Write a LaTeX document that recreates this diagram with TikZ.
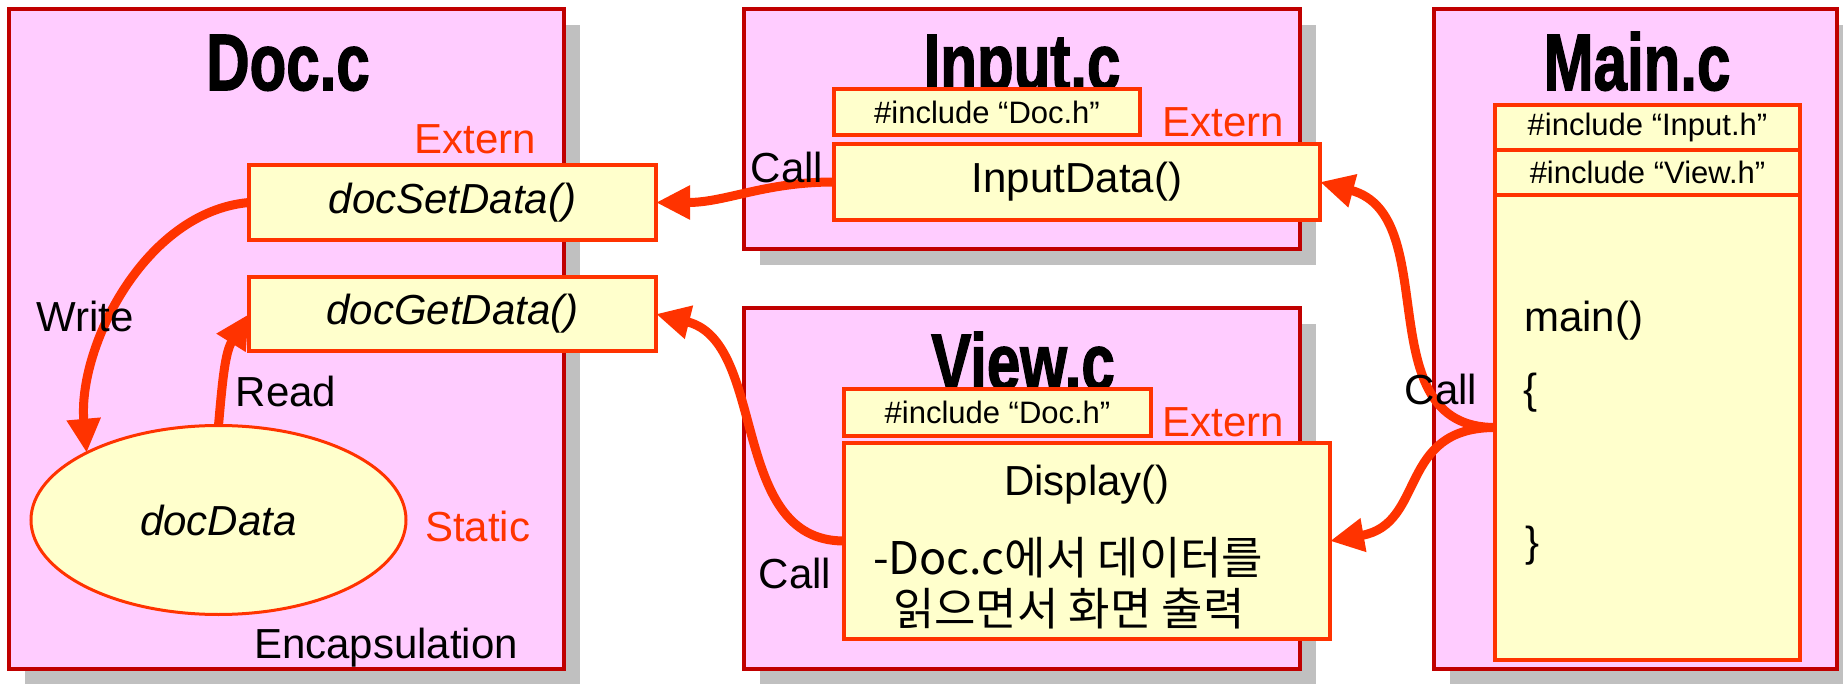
\documentclass[tikz,border=0pt]{standalone}
\usepackage{graphicx}
\usepackage{xcolor}
\usepackage{fontspec}
\setmainfont{Liberation Sans}
\newfontfamily\kr{Noto Sans CJK KR}
\newfontfamily\ttlfont[FakeBold=2]{Liberation Sans Bold}
\usetikzlibrary{shapes.geometric, arrows.meta, positioning, fit, shadows}

\definecolor{panelpink}{RGB}{255,204,255}
\definecolor{paneledge}{RGB}{192,0,0}
\definecolor{boxyellow}{RGB}{255,255,204}
\definecolor{boxedge}{RGB}{255,51,0}
\definecolor{shadowgray}{RGB}{192,192,192}

\begin{document}
\begin{tikzpicture}[
    x=0.5pt, y=0.5pt,
    panel/.style={
        rectangle, inner sep=0pt, outer sep=0pt,
        fill=panelpink, draw=paneledge, line width=2pt,
        drop shadow={opacity=1, fill=shadowgray, shadow xshift=8pt, shadow yshift=-8pt}
    },
    fn/.style={
        rectangle, inner sep=0pt, outer sep=0pt,
        fill=boxyellow, draw=boxedge, line width=2pt,
        font=\fontsize{21}{25}\selectfont
    },
    inc/.style={fn, font=\fontsize{15.5}{18}\selectfont},
    ttl/.style={anchor=base, font=\ttlfont\fontsize{40}{44}\selectfont},
    lbl/.style={anchor=base, font=\fontsize{21}{25}\selectfont},
    tag/.style={lbl, text=boxedge},
    note/.style={anchor=base west, font=\kr\fontsize{22.5}{26}\selectfont},
    arr/.style={-{Triangle[length=17pt, width=16pt]}, line width=4.5pt, draw=boxedge},
]
\useasboundingbox (0,0) rectangle (1843,-684);

%% ---- FILE PANELS ----
\node[panel, fit={(9,-9) (564,-669)}]      (docfile)   {};
\node[panel, fit={(744,-9) (1300,-249)}]   (inputfile) {};
\node[panel, fit={(744,-308) (1300,-669)}] (viewfile)  {};
\node[panel, fit={(1434,-9) (1837,-669)}]  (mainfile)  {};

%% ---- TITLES ----
\node[ttl] (doctitle)   at (288,-90)  {\scalebox{0.75}[1]{Doc.c}};
\node[ttl] (inputtitle) at (1022,-90) {\scalebox{0.75}[1]{Input.c}};
\node[ttl] (viewtitle)  at (1023,-390) {\scalebox{0.75}[1]{View.c}};
\node[ttl] (maintitle)  at (1637,-90) {\scalebox{0.75}[1]{Main.c}};

%% ---- DOC.C ----
\node[fn, minimum width=203.5pt, minimum height=37.5pt] (setfn) at (452.5,-202.5) {\itshape docSetData()};
\node[fn, minimum width=203.5pt, minimum height=37pt]   (getfn) at (452.5,-314)   {\itshape docGetData()};
\node[fn, ellipse, line width=1.5pt, minimum width=187.5pt, minimum height=94.5pt]
    (data) at (218.5,-520) {\itshape docData};

%% ---- INPUT.C ----
\node[inc, minimum width=153pt, minimum height=23pt] (inputinc) at (987,-112)  {\#include “Doc.h”};
\node[fn, minimum width=243pt, minimum height=38pt]  (inputfn)  at (1077,-182) {InputData()};

%% ---- VIEW.C ----
\node[inc, minimum width=153.5pt, minimum height=23.5pt] (viewinc) at (997.5,-412.5) {\#include “Doc.h”};
\node[fn, minimum width=243pt, minimum height=98pt]      (dispfn)  at (1087,-541)    {};
\node[lbl] (disptxt) at (1087,-495) {Display()};
\node[note] (dispnote)    at (866,-574) {-Doc.c에서 데이터를};
\node[note] (dispnotetwo) at (886,-625) {읽으면서 화면 출력};

%% ---- MAIN.C ----
\node[inc, minimum width=152.5pt, minimum height=22.5pt, anchor=north west]
    (maininc) at (1495,-105) {\#include “Input.h”};
\node[inc, minimum width=152.5pt, minimum height=22.5pt, below=0pt of maininc]
    (mainincview) {\#include “View.h”};
\node[fn, minimum width=152.5pt, minimum height=232.5pt, below=0pt of mainincview]
    (mainfn) {};
\node[lbl, anchor=base west] (mainsig)   at (1517,-332) {main()};
\node[lbl, anchor=base west] (mainopen)  at (1516,-403) {\{};
\node[lbl, anchor=base west] (mainclose) at (1518,-556) {\}};

%% ---- CALLS ----
\draw[arr] (setfn.west) to[out=185, in=95, looseness=0.9] (data.153);
\draw[arr] (data.north) to[out=85, in=238] (getfn.west);
\draw[arr] (inputfn.west) to[out=180, in=0] (setfn.east);
\draw[arr] (dispfn.west) to[out=180, in=-14] (getfn.east);
\draw[arr] (mainfn.west) to[out=180, in=-15, looseness=1.1] (inputfn.east);
\draw[arr] (mainfn.west) to[out=180, in=10, looseness=1.25] (dispfn.east);

%% ---- LABELS ----
\node[tag, anchor=base east] (docextern)   at (543,-154)  {Extern};
\node[tag, anchor=base east] (inputextern) at (1291,-137) {Extern};
\node[tag, anchor=base east] (viewextern)  at (1291,-437) {Extern};
\node[tag, anchor=base west] (docstatic)   at (418,-541)  {Static};
\node[lbl] (writelbl) at (85,-332)  {Write};
\node[lbl] (readlbl)  at (286,-407) {Read};
\node[lbl] (encaplbl) at (386,-658) {Encapsulation};
\node[lbl] (inputcall) at (787,-183)  {Call};
\node[lbl] (viewcall)  at (795,-588)  {Call};
\node[lbl] (maincall)  at (1441,-405) {Call};

\end{tikzpicture}
\end{document}
